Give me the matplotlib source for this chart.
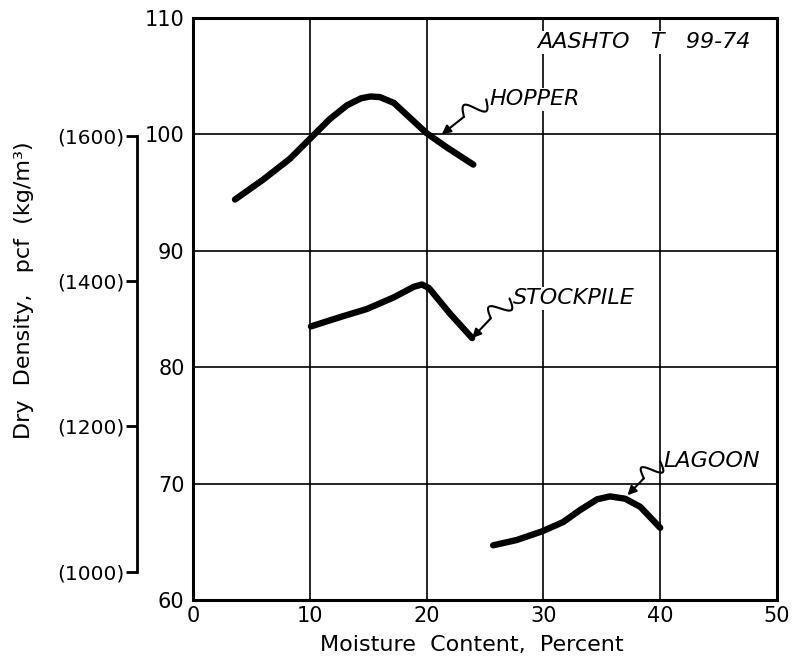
import matplotlib
matplotlib.use('Agg')
import matplotlib.pyplot as plt
import numpy as np

# ─── Data (moisture %, dry density pcf) ──────────────────────────────────────
HOPPER_X = [3.6, 6.0, 8.3, 10.1, 11.7, 13.2, 14.4, 15.2, 16.0, 17.2, 18.6, 20.0, 21.7, 24.0]
HOPPER_Y = [94.4, 96.1, 97.9, 99.7, 101.3, 102.5, 103.1, 103.25, 103.2, 102.7, 101.4, 100.1, 98.9, 97.4]

STOCK_X = [10.1, 12.6, 14.9, 17.2, 18.9, 19.6, 20.2, 22.0, 23.9]
STOCK_Y = [83.5, 84.3, 85.0, 86.0, 86.9, 87.1, 86.8, 84.6, 82.5]

LAGOON_X = [25.7, 27.7, 29.9, 31.7, 33.1, 34.6, 35.7, 37.0, 38.3, 40.0]
LAGOON_Y = [64.7, 65.15, 65.9, 66.7, 67.7, 68.65, 68.9, 68.7, 68.0, 66.2]

X_TICKS = [0, 10, 20, 30, 40, 50]
Y_TICKS = [60, 70, 80, 90, 100, 110]
KG_TICKS = [1000, 1200, 1400, 1600]
KG_LABELS = [f"({v})" for v in KG_TICKS]

# label text, text anchor, arrow tip
LABELS = [
    ("HOPPER",    (25.4, 103.0), (21.3, 100.0)),
    ("STOCKPILE", (27.4, 85.9),  (23.9, 82.5)),
    ("LAGOON",    (40.3, 71.9),  (37.2, 69.0)),
]
PCF_TO_KG = 16.0185

plt.rcParams.update({
    "font.family": "DejaVu Sans",
    "font.size": 14,
})

fig = plt.figure(figsize=(7.94, 6.63), dpi=100)
ax = fig.add_axes([0.243, 0.095, 0.7356, 0.878])

for xs, ys in [(HOPPER_X, HOPPER_Y), (STOCK_X, STOCK_Y), (LAGOON_X, LAGOON_Y)]:
    ax.plot(xs, ys, color='black', lw=4.6, solid_capstyle='round',
            solid_joinstyle='round', zorder=3)

ax.set_xlim(0, 50)
ax.set_ylim(60, 110)
ax.set_xticks(X_TICKS)
ax.set_yticks(Y_TICKS)
ax.tick_params(length=0, labelsize=15)
ax.tick_params(axis='y', pad=6)
ax.tick_params(axis='x', pad=4)
ax.grid(True, color='black', lw=1.2)
ax.set_axisbelow(True)
for s in ax.spines.values():
    s.set_linewidth(2.2)

ax.set_xlabel("Moisture  Content,  Percent", fontsize=16)
ax.xaxis.set_label_coords(0.478, -0.060)
fig.text(0.030, 0.562, "Dry  Density,   pcf  (kg/m³)", rotation=90,
         fontsize=16, ha='center', va='center')

# secondary metric scale, only drawn between 1000 and 1600 kg/m3
sec = ax.secondary_yaxis(-0.096, functions=(lambda v: v * PCF_TO_KG,
                                            lambda v: v / PCF_TO_KG))
sec.set_yticks(KG_TICKS)
sec.set_yticklabels(KG_LABELS)
sec.spines['left'].set_bounds(KG_TICKS[0], KG_TICKS[-1])
sec.spines['left'].set_linewidth(2.0)
sec.tick_params(length=8, width=2.0, labelsize=14.5, pad=1)

ax.text(29.45, 107.9, "AASHTO   T   99-74", fontsize=16, style='italic',
        ha='left', va='center', zorder=4,
        bbox=dict(facecolor='white', edgecolor='none', pad=1))


def squiggle(start, tip):
    # hand-drawn "S" leader from the label down to the curve
    start = np.array(start)
    tip = np.array(tip)
    d = tip - start
    n = np.array([-d[1], d[0]]) / np.hypot(*d)
    t = np.linspace(0, 0.5, 40)
    pts = start + np.outer(t, d) + np.outer(0.8 * np.sin(2 * np.pi * t / 0.5), n)
    ax.plot(pts[:, 0], pts[:, 1], color='black', lw=1.5, zorder=4,
            solid_capstyle='round')
    ax.annotate('', xy=tip, xytext=pts[-1],
                arrowprops=dict(arrowstyle='-|>', color='black', lw=1.5,
                                mutation_scale=13, shrinkA=0, shrinkB=0),
                zorder=4)


for text, (tx, ty), tip in LABELS:
    ax.text(tx, ty, text, fontsize=16, style='italic', ha='left',
            va='center', zorder=4,
            bbox=dict(facecolor='white', edgecolor='none', pad=1))
    squiggle((tx - 0.3, ty), tip)

fig.savefig("out.png", dpi=100)
plt.close(fig)
